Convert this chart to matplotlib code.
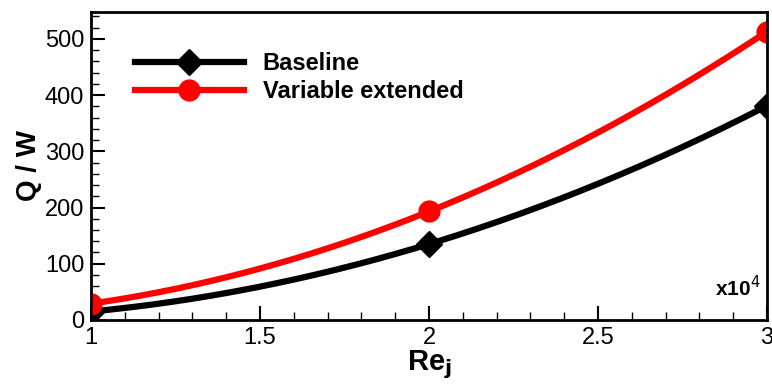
import numpy as np
import matplotlib
matplotlib.use("Agg")
import matplotlib.pyplot as plt
from matplotlib.ticker import MultipleLocator

plt.rcParams['font.family'] = ['Liberation Sans', 'DejaVu Sans']

# data (Re_j in units of 1e4, Q in W)
re_j = [1, 2, 3]
q_baseline = [15, 135, 381]
q_extended = [29, 193, 513]

fig = plt.figure(figsize=(7.72, 3.85), dpi=100)
ax = fig.add_axes([0.118, 0.169, 0.8755, 0.80])

xs = np.linspace(re_j[0], re_j[-1], 200)
for q, col, mk, ms, lab in [(q_baseline, 'black', 'D', 13, 'Baseline'),
                            (q_extended, 'red', 'o', 15, 'Variable extended')]:
    coef = np.polyfit(re_j, q, 2)
    ax.plot(xs, np.polyval(coef, xs), color=col, lw=4.5)
    ax.plot(re_j, q, color=col, lw=0, marker=mk, ms=ms)
    # legend handle
    ax.plot([], [], color=col, lw=4.5, marker=mk, ms=ms, label=lab)

ax.set_xlim(1, 3)
ax.set_ylim(0, 548)
ax.xaxis.set_major_locator(MultipleLocator(0.5))
ax.xaxis.set_minor_locator(MultipleLocator(0.1))
ax.yaxis.set_major_locator(MultipleLocator(100))
ax.yaxis.set_minor_locator(MultipleLocator(20))
ax.xaxis.set_major_formatter(plt.FuncFormatter(lambda v, p: ('%g' % v)))

ax.tick_params(which='major', direction='in', length=10, width=1.5, labelsize=17, pad=5)
ax.tick_params(which='minor', direction='in', length=6, width=1.0)
ax.tick_params(top=False, right=False)
for s in ax.spines.values():
    s.set_linewidth(2)

ax.set_ylabel('Q / W', fontsize=20, fontweight='bold', labelpad=2)
ax.set_xlabel('Re$_\\mathbf{j}$', fontsize=21, fontweight='bold', labelpad=0)
ax.text(0.99, 0.065, 'x10$^4$', transform=ax.transAxes, ha='right', va='bottom',
        fontsize=15, fontweight='bold')

handles, labels = ax.get_legend_handles_labels()
ax.legend(handles[-2:], labels[-2:], loc='center left', bbox_to_anchor=(0.065, 0.787),
          frameon=False, prop={'size': 17, 'weight': 'bold'}, handlelength=4.6,
          labelspacing=0.2, handletextpad=0.8, borderpad=0, borderaxespad=0)

fig.savefig('out.png', dpi=100)
